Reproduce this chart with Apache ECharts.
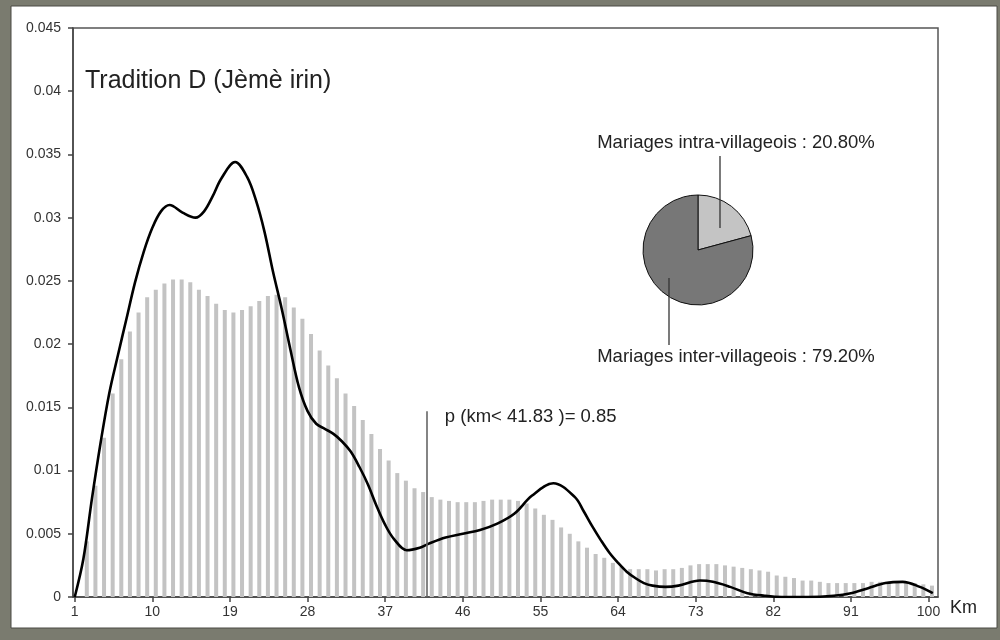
<!DOCTYPE html>
<html>
<head>
<meta charset="utf-8">
<script src="https://cdn.jsdelivr.net/npm/echarts@6/dist/echarts.min.js"></script>
<style>
html,body{margin:0;padding:0;background:#7a7b6f;}
#chart{width:1000px;height:640px;}
</style>
</head>
<body>
<div id="chart"></div>
<script>
// ---- data ----
const titleText = 'Tradition D (Jèmè irin)';
const xTicks = [1, 10, 19, 28, 37, 46, 55, 64, 73, 82, 91, 100];
const yMax = 0.045;
const yStep = 0.005;

// histogram: one bar per km (1..100)
const barKm = Array.from({length: 100}, (_, i) => i + 1);
const barValues = [
  0, 0.0044, 0.0088, 0.0126, 0.0161, 0.0188, 0.0210, 0.0225, 0.0237, 0.0243,
  0.0248, 0.0251, 0.0251, 0.0249, 0.0243, 0.0238, 0.0232, 0.0227, 0.0225, 0.0227,
  0.0230, 0.0234, 0.0238, 0.0239, 0.0237, 0.0229, 0.0220, 0.0208, 0.0195, 0.0183,
  0.0173, 0.0161, 0.0151, 0.0140, 0.0129, 0.0117, 0.0108, 0.0098, 0.0092, 0.0086,
  0.0083, 0.0079, 0.0077, 0.0076, 0.0075, 0.0075, 0.0075, 0.0076, 0.0077, 0.0077,
  0.0077, 0.0076, 0.0074, 0.0070, 0.0065, 0.0061, 0.0055, 0.0050, 0.0044, 0.0039,
  0.0034, 0.0031, 0.0027, 0.0024, 0.0022, 0.0022, 0.0022, 0.0021, 0.0022, 0.0022,
  0.0023, 0.0025, 0.0026, 0.0026, 0.0026, 0.0025, 0.0024, 0.0023, 0.0022, 0.0021,
  0.0020, 0.0017, 0.0016, 0.0015, 0.0013, 0.0013, 0.0012, 0.0011, 0.0011, 0.0011,
  0.0011, 0.0011, 0.0012, 0.0012, 0.0012, 0.0012, 0.0012, 0.0011, 0.0010, 0.0009
];

// density curve
const curveKm = [1, 2, 3, 4, 5, 6, 7, 8, 9, 10, 11, 12, 13.5, 15, 16, 17, 18, 19.6,
  21, 22, 23, 24, 25, 26, 27, 28, 29, 30, 31, 32, 33, 34, 35, 36, 37, 38, 39.5,
  41, 42, 44, 46, 48, 50, 52, 54, 56.5, 59, 60, 61, 62, 63, 64, 65, 66,
  67, 68, 69.5, 71, 73.5, 75, 77, 79, 81, 83, 86, 89, 91, 93, 95, 97, 99, 100.5];
const curveDensity = [0, 0.0030, 0.0078, 0.0122, 0.0161, 0.0191, 0.0220, 0.0249, 0.0273, 0.0292,
  0.0305, 0.0310, 0.0304, 0.0300, 0.0305, 0.0317, 0.0331, 0.0344,
  0.0332, 0.0314, 0.0289, 0.0257, 0.0228, 0.0196, 0.0166, 0.0147, 0.0137, 0.0133,
  0.0129, 0.0123, 0.0115, 0.0103, 0.0089, 0.0072, 0.0057, 0.0046, 0.0037,
  0.0039, 0.0042, 0.0047, 0.0050, 0.0053, 0.0058, 0.0066, 0.0080, 0.0090, 0.0079,
  0.0068, 0.0056, 0.0045, 0.0035, 0.0027, 0.0020, 0.0015,
  0.0011, 0.0009, 0.0008, 0.0009, 0.0013, 0.0012, 0.0008, 0.0003, 0.0001,
  0, 0, 0.0001, 0.0003, 0.0007, 0.0011, 0.0012, 0.0008, 0.0003];

// threshold annotation
const pKm = 41.83;
const pValue = 0.85;
const pLineTop = 0.0147;

// pie
const pieNames = ['Mariages intra-villageois', 'Mariages inter-villageois'];
const pieValues = [20.80, 79.20];

// ---- chart ----
const FONT = 'Liberation Sans, Arial, Helvetica, sans-serif';
const binCenterOffset = 0.4;
const chart = echarts.init(document.getElementById('chart'));

const option = {
  backgroundColor: '#7a7b6f',
  animation: false,
  textStyle: {fontFamily: FONT},
  grid: {
    left: 73, right: 62, top: 28, bottom: 43,
    show: true, borderColor: '#555', borderWidth: 1.5, backgroundColor: '#fff'
  },
  xAxis: {
    type: 'value', min: 0.8, max: 101.1,
    axisLine: {show: true, onZero: false, lineStyle: {color: '#444', width: 1.5}},
    axisTick: {show: true, customValues: xTicks, length: 5, lineStyle: {color: '#444', width: 1.5}},
    axisLabel: {customValues: xTicks, fontSize: 14, color: '#333', margin: 8, fontFamily: FONT},
    splitLine: {show: false},
    name: 'Km', nameLocation: 'end', nameGap: 12,
    nameTextStyle: {fontSize: 18, color: '#222', verticalAlign: 'top', padding: [2, 0, 0, 0], fontFamily: FONT}
  },
  yAxis: {
    type: 'value', min: 0, max: yMax, interval: yStep,
    axisLine: {show: true, lineStyle: {color: '#444', width: 1.5}},
    axisTick: {show: true, length: 5, lineStyle: {color: '#444', width: 1.5}},
    axisLabel: {
      fontSize: 14, color: '#333', margin: 12, fontFamily: FONT,
      formatter: v => String(parseFloat(v.toFixed(3)))
    },
    splitLine: {show: false}
  },
  series: [
    {
      type: 'bar',
      barWidth: 4,
      itemStyle: {color: '#c3c3c3'},
      data: barKm.map((k, i) => [k + binCenterOffset, barValues[i]]),
      z: 1
    },
    {
      type: 'line',
      smooth: 0.35,
      showSymbol: false,
      lineStyle: {color: '#000', width: 2.6},
      data: curveKm.map((k, i) => [k, curveDensity[i]]),
      z: 3,
      markLine: {
        silent: true,
        symbol: 'none',
        lineStyle: {color: '#666', width: 1.6, type: 'solid'},
        label: {show: false},
        data: [[{coord: [pKm, 0]}, {coord: [pKm, pLineTop]}]]
      }
    },
    {
      type: 'pie',
      center: [698, 250],
      radius: 55,
      startAngle: 90,
      clockwise: true,
      label: {show: false},
      labelLine: {show: false},
      itemStyle: {borderColor: '#111', borderWidth: 1},
      color: ['#c4c4c4', '#777777'],
      data: pieNames.map((n, i) => ({name: n, value: pieValues[i]})),
      z: 5
    }
  ]
};
chart.setOption(option);

// place annotation texts relative to data coordinates
const pTopPx = chart.convertToPixel({gridIndex: 0}, [pKm, pLineTop]);
const pieLbl = (i) => pieNames[i] + ' : ' + pieValues[i].toFixed(2) + '%';
chart.setOption({
  graphic: [
    {type: 'rect', z: -100, shape: {x: 11, y: 6, width: 986, height: 622},
     style: {fill: '#fff', stroke: '#4a4a44', lineWidth: 1}},
    {type: 'text', left: 85, top: 69, z: 10,
     style: {text: titleText, font: '25px ' + FONT, fill: '#222'}},
    {type: 'text', z: 10, x: pTopPx[0] + 18, y: pTopPx[1] + 6,
     style: {text: 'p (km< ' + pKm.toFixed(2) + ' )= ' + pValue.toFixed(2), font: '18.5px ' + FONT, fill: '#222', verticalAlign: 'middle'}},
    {type: 'text', z: 10, x: 736, y: 143,
     style: {text: pieLbl(0), font: '18.5px ' + FONT, fill: '#222', align: 'center', verticalAlign: 'middle'}},
    {type: 'text', z: 10, x: 736, y: 357,
     style: {text: pieLbl(1), font: '18.5px ' + FONT, fill: '#222', align: 'center', verticalAlign: 'middle'}},
    {type: 'line', z: 10, shape: {x1: 720, y1: 156, x2: 720, y2: 228}, style: {stroke: '#333', lineWidth: 1.3}},
    {type: 'line', z: 10, shape: {x1: 669, y1: 278, x2: 669, y2: 345}, style: {stroke: '#333', lineWidth: 1.3}}
  ]
});
</script>
</body>
</html>
